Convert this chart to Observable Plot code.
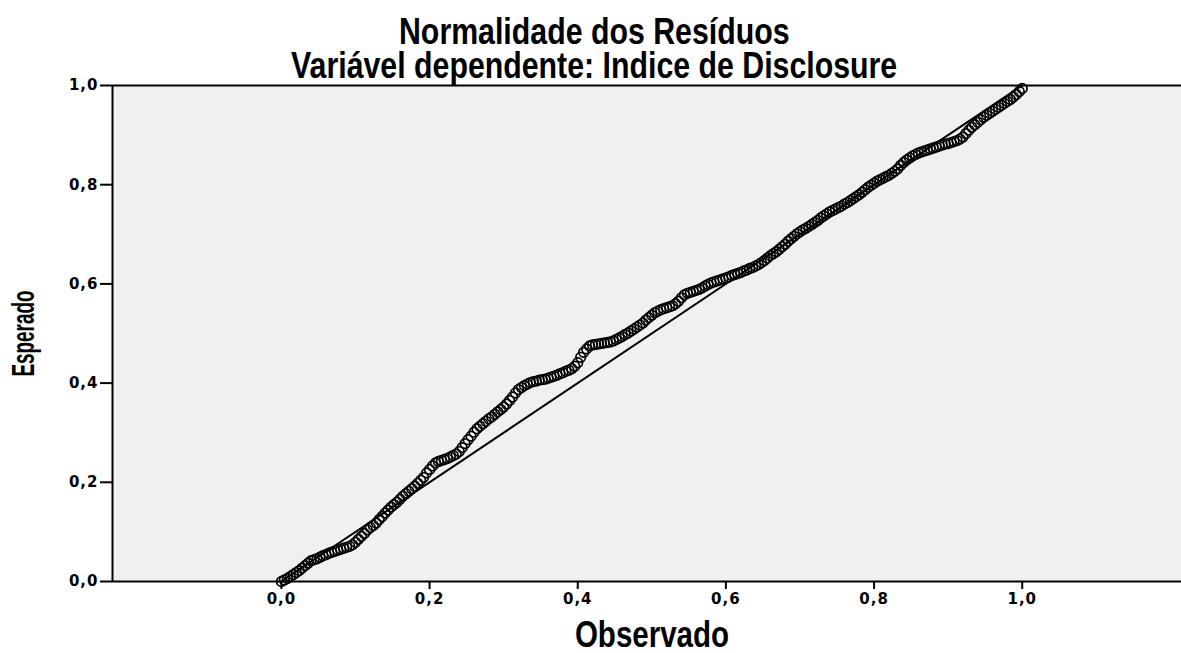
<!DOCTYPE html>
<html>
<head>
<meta charset="utf-8">
<script src="https://cdn.jsdelivr.net/npm/d3@7"></script>
<script src="https://cdn.jsdelivr.net/npm/@observablehq/plot@0.6"></script>
<style>
  html, body { margin: 0; padding: 0; background: #fff; }
  #title { position: relative; z-index: 2; width: 1181px; height: 60px; box-sizing: border-box; padding-top: 15px;
    font-family: "Liberation Sans", Arial, sans-serif; font-weight: bold; overflow: visible;
    font-size: 36.5px; line-height: 34px; text-align: center; color: #000; }
  #title div { position: relative; left: 4px; white-space: nowrap; height: 34px; }
  #title span { display: inline-block; transform: scaleX(0.83); transform-origin: center; }
  #chart { position: relative; z-index: 1; }
  #chart svg { display: block; background: transparent; }
</style>
</head>
<body>
<div id="title"><div><span>Normalidade dos Resíduos</span></div><div><span>Variável dependente: Indice de Disclosure</span></div></div>
<div id="chart"></div>
<script>
const observado = [
  0.000,0.004,0.008,0.012,0.016,0.020,0.024,0.028,0.032,0.036,
  0.040,0.044,0.048,0.052,0.056,0.060,0.064,0.068,0.072,0.076,
  0.080,0.084,0.088,0.092,0.096,0.100,0.104,0.108,0.112,0.116,
  0.120,0.124,0.128,0.132,0.136,0.140,0.144,0.148,0.152,0.156,
  0.160,0.164,0.168,0.172,0.176,0.180,0.184,0.188,0.192,0.196,
  0.200,0.204,0.208,0.212,0.216,0.220,0.224,0.228,0.232,0.236,
  0.240,0.244,0.248,0.252,0.256,0.260,0.264,0.268,0.272,0.276,
  0.280,0.284,0.288,0.292,0.296,0.300,0.304,0.308,0.312,0.316,
  0.320,0.324,0.328,0.332,0.336,0.340,0.344,0.348,0.352,0.356,
  0.360,0.364,0.368,0.372,0.376,0.380,0.384,0.388,0.392,0.396,
  0.400,0.404,0.408,0.412,0.416,0.420,0.424,0.428,0.432,0.436,
  0.440,0.444,0.448,0.452,0.456,0.460,0.464,0.468,0.472,0.476,
  0.480,0.484,0.488,0.492,0.496,0.500,0.504,0.508,0.512,0.516,
  0.520,0.524,0.528,0.532,0.536,0.540,0.544,0.548,0.552,0.556,
  0.560,0.564,0.568,0.572,0.576,0.580,0.584,0.588,0.592,0.596,
  0.600,0.604,0.608,0.612,0.616,0.620,0.624,0.628,0.632,0.636,
  0.640,0.644,0.648,0.652,0.656,0.660,0.664,0.668,0.672,0.676,
  0.680,0.684,0.688,0.692,0.696,0.700,0.704,0.708,0.712,0.716,
  0.720,0.724,0.728,0.732,0.736,0.740,0.744,0.748,0.752,0.756,
  0.760,0.764,0.768,0.772,0.776,0.780,0.784,0.788,0.792,0.796,
  0.800,0.804,0.808,0.812,0.816,0.820,0.824,0.828,0.832,0.836,
  0.840,0.844,0.848,0.852,0.856,0.860,0.864,0.868,0.872,0.876,
  0.880,0.884,0.888,0.892,0.896,0.900,0.904,0.908,0.912,0.916,
  0.920,0.924,0.928,0.932,0.936,0.940,0.944,0.948,0.952,0.956,
  0.960,0.964,0.968,0.972,0.976,0.980,0.984,0.988,0.992,0.996,
  1.000
];
const esperado = [
  0.000,0.003,0.006,0.010,0.014,0.018,0.022,0.027,0.032,0.037,
  0.042,0.044,0.046,0.049,0.052,0.054,0.057,0.059,0.061,0.063,
  0.065,0.067,0.069,0.071,0.074,0.079,0.085,0.091,0.097,0.104,
  0.109,0.113,0.118,0.125,0.131,0.138,0.144,0.150,0.155,0.160,
  0.166,0.172,0.177,0.182,0.187,0.192,0.198,0.204,0.210,0.219,
  0.226,0.233,0.239,0.242,0.244,0.246,0.248,0.251,0.254,0.257,
  0.262,0.270,0.278,0.286,0.293,0.301,0.308,0.313,0.318,0.323,
  0.328,0.332,0.337,0.342,0.347,0.352,0.358,0.365,0.372,0.380,
  0.387,0.391,0.395,0.398,0.401,0.403,0.404,0.406,0.407,0.408,
  0.410,0.412,0.414,0.416,0.419,0.421,0.424,0.426,0.429,0.434,
  0.441,0.452,0.462,0.469,0.475,0.477,0.478,0.479,0.480,0.481,
  0.482,0.483,0.485,0.488,0.491,0.494,0.498,0.501,0.505,0.509,
  0.513,0.517,0.521,0.527,0.532,0.537,0.542,0.545,0.548,0.550,
  0.552,0.554,0.556,0.560,0.565,0.572,0.578,0.581,0.583,0.585,
  0.587,0.589,0.592,0.596,0.599,0.602,0.604,0.606,0.608,0.610,
  0.612,0.614,0.617,0.619,0.621,0.623,0.626,0.628,0.631,0.633,
  0.636,0.639,0.643,0.647,0.652,0.657,0.661,0.665,0.670,0.675,
  0.680,0.686,0.691,0.696,0.701,0.705,0.709,0.712,0.716,0.720,
  0.724,0.728,0.733,0.737,0.741,0.745,0.748,0.751,0.754,0.757,
  0.761,0.764,0.768,0.772,0.776,0.780,0.785,0.790,0.795,0.799,
  0.803,0.807,0.810,0.813,0.816,0.819,0.823,0.827,0.832,0.839,
  0.845,0.850,0.854,0.858,0.861,0.864,0.866,0.868,0.870,0.872,
  0.874,0.876,0.878,0.880,0.882,0.883,0.885,0.887,0.889,0.892,
  0.896,0.903,0.910,0.916,0.921,0.926,0.931,0.936,0.940,0.944,
  0.948,0.952,0.956,0.960,0.964,0.968,0.972,0.977,0.982,0.988,
  0.994
];
const xTicks = [0.0, 0.2, 0.4, 0.6, 0.8, 1.0];
const yTicks = [0.0, 0.2, 0.4, 0.6, 0.8, 1.0];
const referencia = [0, 1];
const xDomain = [-0.228, 1.215];
const yDomain = [0, 1];
const xLabel = "Observado";
const yLabel = "Esperado";

const points = observado.map((x, i) => ({x, y: esperado[i]}));
const fmt = d => d3.format(".1f")(d).replace(".", ",");
const labelFont = "'Liberation Sans', Arial, sans-serif";
const tickFont = "'DejaVu Sans', sans-serif";

const chart = Plot.plot({
  width: 1181,
  height: 593,
  marginTop: 25,
  marginBottom: 72,
  marginLeft: 112,
  marginRight: 0,
  style: {background: "transparent"},
  x: {domain: xDomain},
  y: {domain: yDomain},
  marks: [
    Plot.frame({fill: "#f0f0f0", stroke: null}),
    Plot.axisX(xTicks, {tickFormat: fmt, tickSize: 8, tickPadding: 4, strokeWidth: 2, label: null,
      fontSize: 15, fontWeight: "bold", fontFamily: tickFont, fill: "#000"}),
    Plot.axisY(yTicks, {tickFormat: fmt, tickSize: 12, tickPadding: 2, strokeWidth: 2, label: null,
      fontSize: 15, fontWeight: "bold", fontFamily: tickFont, fill: "#000"}),
    Plot.text([xLabel], {text: d => d, frameAnchor: "bottom", textAnchor: "middle", lineAnchor: "bottom", dy: 65, dx: 5,
      fontSize: 36, fontWeight: "bold", fontFamily: labelFont, fill: "#000"}),
    Plot.text([yLabel], {text: d => d, frameAnchor: "left", textAnchor: "middle", lineAnchor: "bottom", rotate: -90, dx: -79,
      fontSize: 30.5, fontWeight: "bold", fontFamily: labelFont, fill: "#000"}),
    Plot.ruleY([yDomain[0], yDomain[1]], {stroke: "#000", strokeWidth: 2}),
    Plot.ruleX([xDomain[0]], {stroke: "#000", strokeWidth: 2}),
    Plot.line(referencia, {x: d => d, y: d => d, stroke: "#000", strokeWidth: 2}),
    Plot.dot(points, {x: "x", y: "y", r: 4.8, stroke: "#000", strokeWidth: 1.7, fill: "none"})
  ]
});
document.getElementById("chart").appendChild(chart);
// condense the axis titles to a narrow bold face; widen the tick labels slightly
const tickStrings = new Set([...xTicks, ...yTicks].map(fmt));
const squeeze = {[xLabel]: 0.82, [yLabel]: 0.62};
chart.querySelectorAll("text").forEach(t => {
  const s = t.textContent;
  if (s in squeeze) {
    const w = t.getComputedTextLength();
    t.setAttribute("textLength", (w * squeeze[s]).toFixed(1));
    t.setAttribute("lengthAdjust", "spacingAndGlyphs");
  } else if (tickStrings.has(s)) {
    t.style.letterSpacing = "1px";
  }
});
</script>
</body>
</html>
